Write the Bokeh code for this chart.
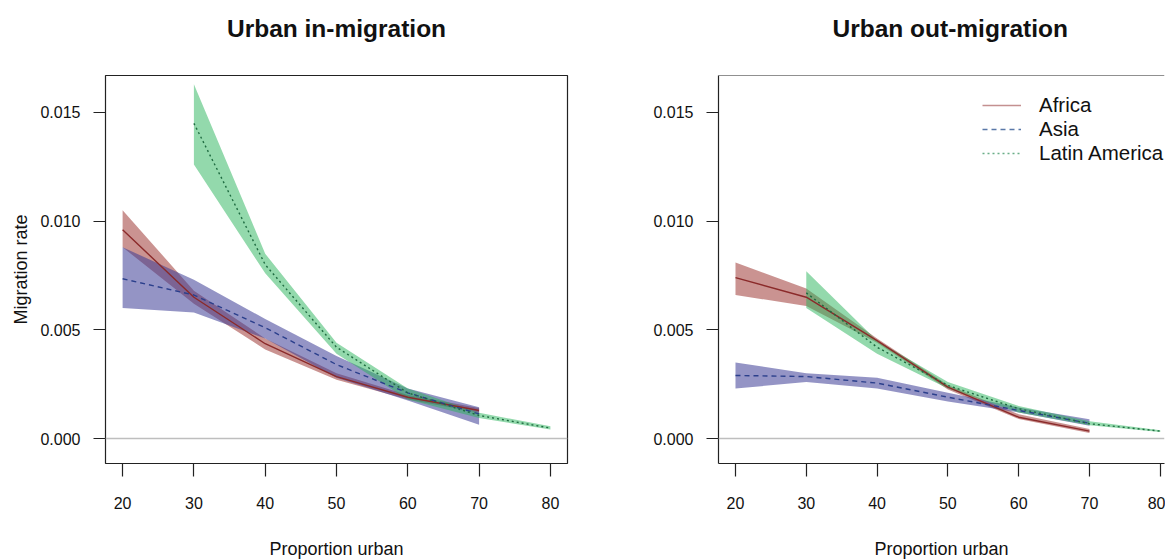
from bokeh.plotting import figure
from bokeh.layouts import row
from bokeh.models import FixedTicker, PrintfTickFormatter, Span, Legend, LegendItem, Range1d
from bokeh.embed import file_html
from bokeh.resources import INLINE

# ---------------- data ----------------
urban_af = [20, 30, 40, 50, 60, 70]
urban_as = [20, 30, 40, 50, 60, 70]
urban_la = [30, 40, 50, 60, 70, 80]

# Urban in-migration
in_af = [0.0096, 0.0065, 0.00436, 0.00285, 0.0019, 0.00129]
in_af_lo = [0.0088, 0.0062, 0.0041, 0.0027, 0.0018, 0.00118]
in_af_hi = [0.0105, 0.0068, 0.0046, 0.0030, 0.0020, 0.0014]

in_as = [0.00735, 0.0066, 0.0051, 0.0034, 0.0021, 0.00113]
in_as_lo = [0.0060, 0.0058, 0.0046, 0.0028, 0.00175, 0.00063]
in_as_hi = [0.0088, 0.0073, 0.0055, 0.0038, 0.0023, 0.00144]

in_la = [0.0145, 0.0080, 0.0042, 0.0021, 0.00106, 0.00048]
in_la_lo = [0.0126, 0.0076, 0.0039, 0.0018, 0.00094, 0.00041]
in_la_hi = [0.0163, 0.0085, 0.0044, 0.0023, 0.00118, 0.00056]

# Urban out-migration
out_af = [0.0074, 0.0065, 0.0045, 0.00236, 0.00098, 0.00034]
out_af_lo = [0.0066, 0.0061, 0.0044, 0.00226, 0.0009, 0.00025]
out_af_hi = [0.0081, 0.0069, 0.0046, 0.00246, 0.00112, 0.00044]

out_as = [0.0029, 0.00285, 0.00255, 0.0019, 0.00129, 0.0007]
out_as_lo = [0.0023, 0.0026, 0.0023, 0.0017, 0.0012, 0.00059]
out_as_hi = [0.0035, 0.0030, 0.0028, 0.0021, 0.00143, 0.00088]

out_la = [0.0067, 0.0042, 0.00244, 0.00137, 0.00068, 0.00034]
out_la_lo = [0.0060, 0.0039, 0.0023, 0.0012, 0.00061, 0.0003]
out_la_hi = [0.0077, 0.0045, 0.0026, 0.0015, 0.00079, 0.00038]

regions = ["Africa", "Asia", "Latin America"]
y_ticks = [0.0, 0.005, 0.010, 0.015]
x_ticks = [20, 30, 40, 50, 60, 70, 80]

# ---------------- style ----------------
FONT = "Liberation Sans"
FILL = {"Africa": (150, 40, 35), "Asia": (60, 60, 150), "Latin America": (40, 180, 90)}
FILL_ALPHA = {"Africa": 0.5, "Asia": 0.55, "Latin America": 0.5}
LINE = {"Africa": "#8B2A2A", "Asia": "#2B3F8C", "Latin America": "#1E6B40"}
DASH = {"Africa": "solid", "Asia": "5 4", "Latin America": "2 3"}
LEG_COL = {"Africa": "#C49090", "Asia": "#5A78A8", "Latin America": "#6AAE88"}

Y0, Y1 = -0.00115, 0.0167
FH = 388


def panel(title, title_align, title_offset, series, x_end, fw, border_left, border_right,
          ylabel, legend, full_outline):
    p = figure(output_backend="svg", toolbar_location=None,
               frame_width=fw, frame_height=FH,
               min_border_left=border_left, min_border_right=border_right,
               min_border_top=75, min_border_bottom=94,
               x_range=Range1d(17.6, x_end), y_range=Range1d(Y0, Y1),
               title=title + "\n ")
    p.background_fill_color = "white"
    p.border_fill_color = "white"
    p.grid.visible = False
    if full_outline:
        p.outline_line_color = "#222222"
        p.outline_line_width = 1.2
    else:
        p.outline_line_color = None

    p.title.text_font = FONT
    p.title.text_font_size = "24.5px"
    p.title.text_font_style = "bold"
    p.title.text_color = "#111111"
    p.title.align = title_align
    p.title.offset = title_offset
    p.title.standoff = 14

    p.add_layout(Span(location=0, dimension="width", line_color="#BEBEBE", line_width=1.5))

    for name, (xs, m, lo, hi) in zip(regions, series):
        p.varea(x=xs, y1=lo, y2=hi, fill_color=FILL[name], fill_alpha=FILL_ALPHA[name])
    for name, (xs, m, lo, hi) in zip(regions, series):
        p.line(xs, m, line_color=LINE[name], line_width=1.4, line_dash=DASH[name])

    xa = p.xaxis[0]
    xa.ticker = FixedTicker(ticks=x_ticks)
    xa.axis_label = "Proportion urban"
    ya = p.yaxis[0]
    ya.ticker = FixedTicker(ticks=y_ticks)
    ya.formatter = PrintfTickFormatter(format="%.3f")
    if ylabel:
        ya.axis_label = ylabel
    for ax in (xa, ya):
        ax.axis_line_color = None if full_outline else "#222222"
        ax.axis_line_width = 1.2
        ax.major_tick_line_color = "#222222"
        ax.major_tick_line_width = 1.2
        ax.major_tick_in = 0
        ax.minor_tick_line_color = None
        ax.major_label_text_font = FONT
        ax.major_label_text_font_size = "16px"
        ax.major_label_text_color = "#111111"
        ax.axis_label_text_font = FONT
        ax.axis_label_text_font_size = "18px"
        ax.axis_label_text_font_style = "normal"
        ax.axis_label_text_color = "#111111"
    xa.major_tick_out = 13
    xa.major_label_standoff = 20
    xa.axis_label_standoff = 27
    ya.major_tick_out = 12
    ya.major_label_standoff = 13
    ya.axis_label_standoff = 6

    if not full_outline:
        p.add_layout(Span(location=Y1, dimension="width", line_color="#222222", line_width=1.2))

    if legend:
        items = []
        for name in regions:
            r = p.line([-100, -99], [0, 0], line_color=LEG_COL[name], line_width=1.4,
                       line_dash=DASH[name])
            items.append(LegendItem(label=name, renderers=[r]))
        lg = Legend(items=items, location=(264, 298),
                    border_line_color=None, background_fill_alpha=0,
                    label_text_font=FONT, label_text_font_size="20.5px",
                    label_text_color="#111111",
                    glyph_width=39, glyph_height=24, label_height=24,
                    spacing=0, label_standoff=18, padding=0, margin=0)
        p.add_layout(lg)
    return p


p1 = panel("Urban in-migration", "center", 0,
           [(urban_af, in_af, in_af_lo, in_af_hi),
            (urban_as, in_as, in_as_lo, in_as_hi),
            (urban_la, in_la, in_la_lo, in_la_hi)],
           82.4, 462, 105, 81, "Migration rate", False, True)
p2 = panel("Urban out-migration", "left", 114,
           [(urban_af, out_af, out_af_lo, out_af_hi),
            (urban_as, out_as, out_as_lo, out_as_hi),
            (urban_la, out_la, out_la_lo, out_la_hi)],
           80.6, 446, 70, 1, None, True, False)

layout = row(p1, p2, spacing=0)
open("out.html", "w").write(file_html(layout, INLINE))
